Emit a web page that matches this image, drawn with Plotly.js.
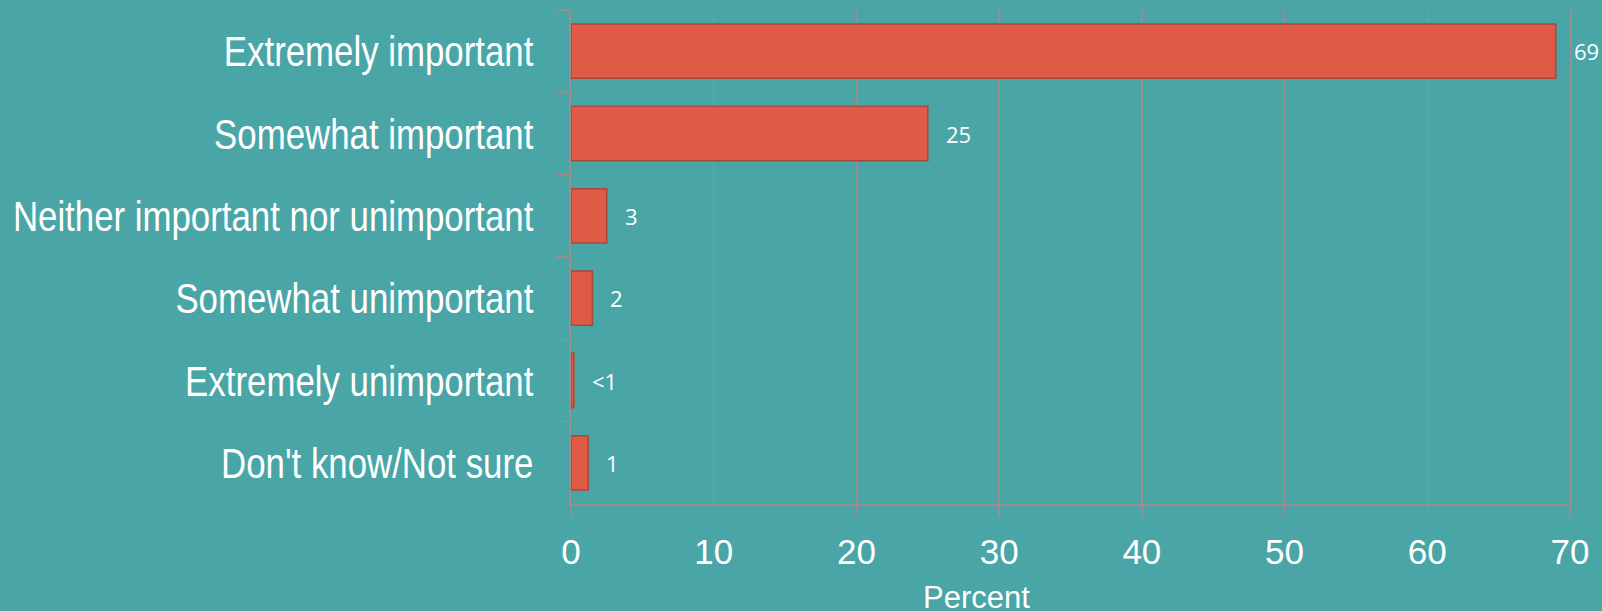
<!DOCTYPE html>
<html>
<head>
<meta charset="utf-8">
<script src="https://cdn.plot.ly/plotly-3.0.1.min.js"></script>
<style>
  html, body { margin: 0; padding: 0; background: #4aa6a6; }
  #myDiv { width: 1602px; height: 611px; }
</style>
</head>
<body>
<div id="myDiv"></div>
<script>
// Respuestas (de arriba hacia abajo)
const categories = [
  "Extremely important",
  "Somewhat important",
  "Neither important nor unimportant",
  "Somewhat unimportant",
  "Extremely unimportant",
  "Don't know/Not sure"
];
const percents = [69, 25, 2.5, 1.5, 0.2, 1.2]; // largo de barra
const valueLabels = ["69", "25", "3", "2", "<1", "1"];
const xTicks = [0, 10, 20, 30, 40, 50, 60, 70];

const gray = "#9c8d8d";
const narrow = 0.81; // no hay fuente "narrow" instalada, se comprime a mano

const trace1 = {
  type: "bar",
  orientation: "h",
  y: categories,
  x: percents,
  marker: {
    color: "#e05b46",
    line: { color: "#a9473b", width: 1.5 }
  },
  hoverinfo: "skip"
};

// Etiquetas de valor a la derecha de cada barra
const annotations = categories.map((cat, i) => ({
  x: percents[i],
  y: cat,
  xref: "x",
  yref: "y",
  text: valueLabels[i],
  showarrow: false,
  xanchor: "left",
  xshift: 16,
  font: { family: "Open Sans, sans-serif", size: 22, color: "#ffffff" }
}));

// Titulo del eje x (no esta centrado en el original)
annotations.push({
  xref: "paper",
  yref: "paper",
  x: 0.406,
  y: 0,
  yanchor: "top",
  yshift: -74,
  text: "Percent",
  showarrow: false,
  font: { family: "Liberation Sans, Arial, sans-serif", size: 31, color: "#ffffff" }
});

const layout = {
  width: 1602,
  height: 611,
  paper_bgcolor: "#4aa6a6",
  plot_bgcolor: "#4aa6a6",
  margin: { l: 571, r: 32, t: 10, b: 107 },
  showlegend: false,
  bargap: 0.34,
  xaxis: {
    range: [0, 70],
    tickvals: xTicks,
    showgrid: true,
    gridcolor: gray,
    gridwidth: 1.5,
    showline: true,
    linecolor: gray,
    linewidth: 2,
    zeroline: false,
    ticks: "outside",
    ticklen: 10,
    tickcolor: gray,
    tickwidth: 1.5,
    ticklabelstandoff: 6,
    tickfont: { family: "Liberation Sans, Arial, sans-serif", size: 35, color: "#ffffff" }
  },
  yaxis: {
    autorange: "reversed",
    showline: true,
    mirror: true, // linea vertical en 70 como en el original
    linecolor: gray,
    linewidth: 2,
    showgrid: false,
    ticks: "outside",
    tickson: "boundaries",
    ticklen: 13,
    tickcolor: gray,
    tickwidth: 1.5,
    ticklabelstandoff: 27,
    tickfont: { family: "Liberation Sans, Arial, sans-serif", size: 43, color: "#ffffff" }
  },
  annotations: annotations
};

Plotly.newPlot("myDiv", [trace1], layout, { displayModeBar: false, staticPlot: true }).then((gd) => {
  // Comprimir horizontalmente las etiquetas del eje y (anclado en el borde derecho)
  gd.querySelectorAll(".ytick text").forEach((t) => {
    const x = parseFloat(t.getAttribute("x")) || 0;
    const tr = t.getAttribute("transform") || "";
    t.setAttribute("transform", tr + " translate(" + x + ",0) scale(" + narrow + ",1) translate(" + -x + ",0)");
  });
});
</script>
</body>
</html>
